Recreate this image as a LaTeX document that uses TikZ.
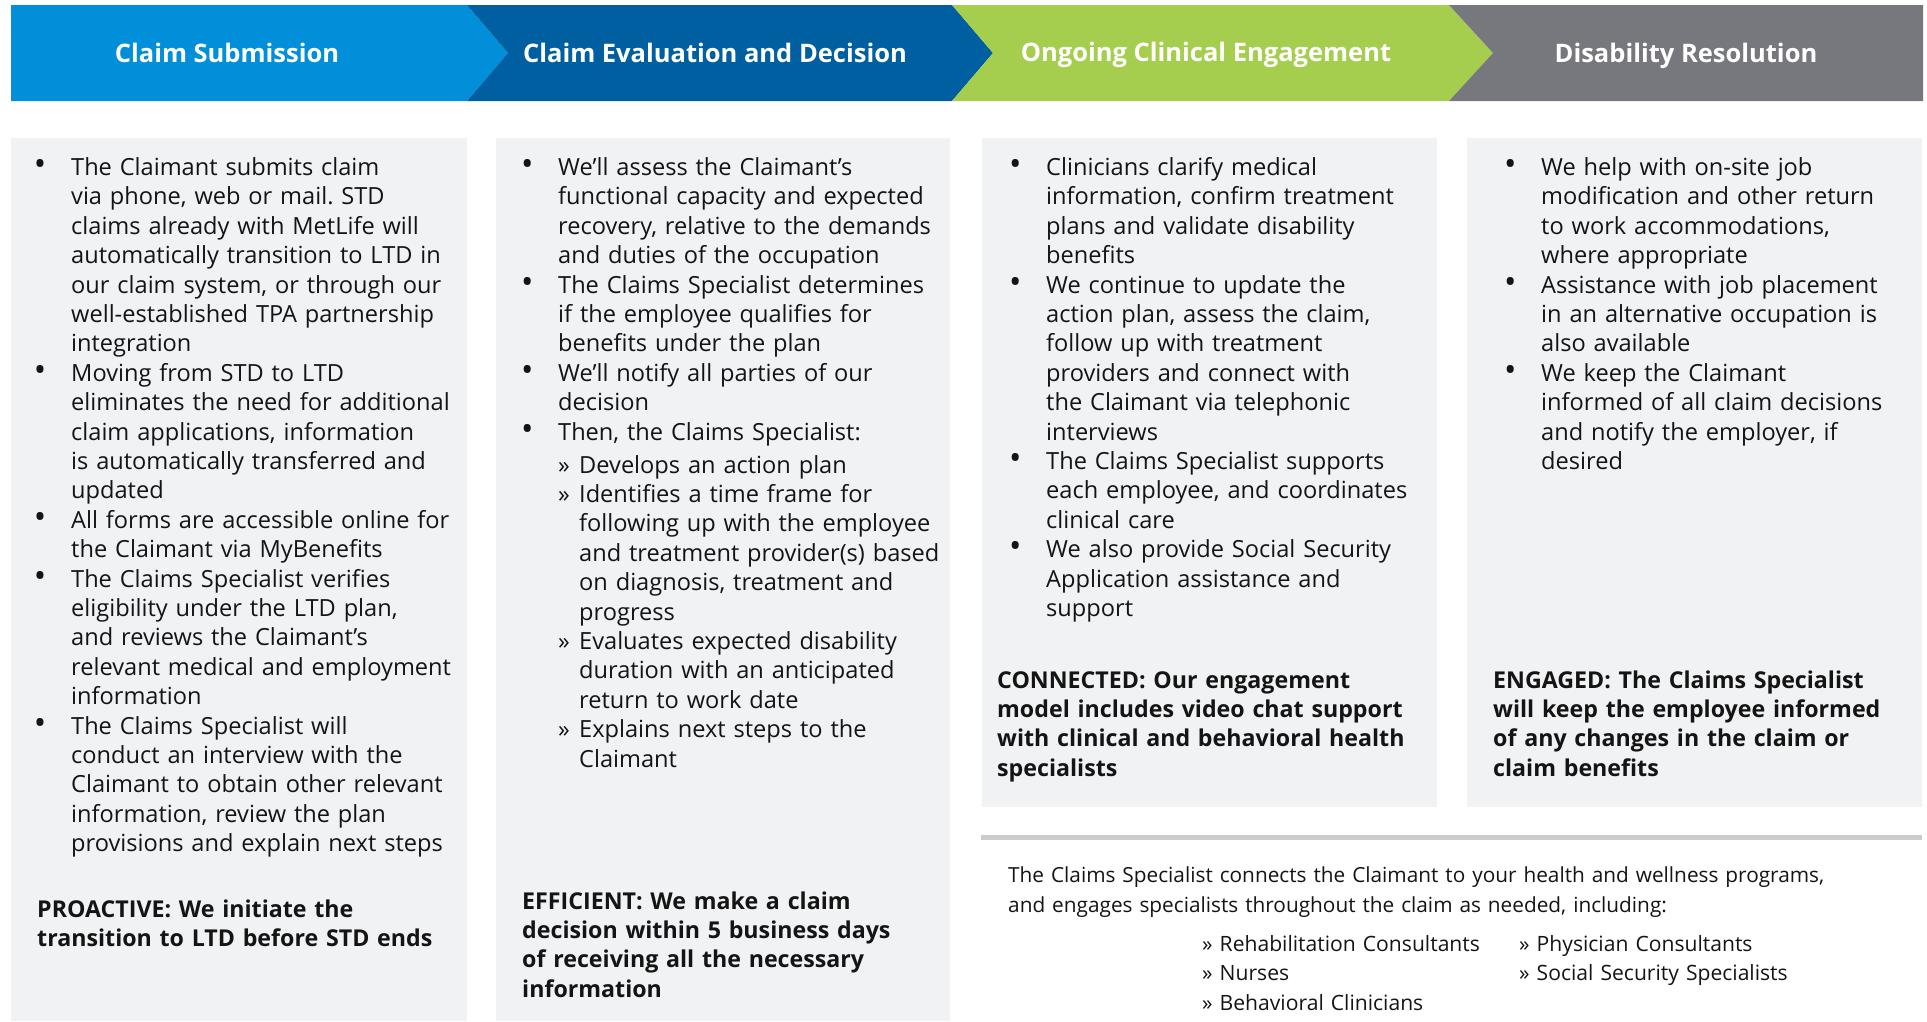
\documentclass[tikz,border=0pt]{standalone}
\usepackage{fontspec}
\setmainfont{Open Sans}
\frenchspacing

\definecolor{stepblue}{RGB}{0,143,216}
\definecolor{stepnavy}{RGB}{0,95,160}
\definecolor{stepgreen}{RGB}{166,206,78}
\definecolor{stepgrey}{RGB}{119,120,125}
\definecolor{panelgrey}{RGB}{241,242,244}
\definecolor{rulegrey}{RGB}{204,204,204}
\definecolor{bodyblack}{RGB}{20,20,20}

\tikzstyle{header} = [text=white,font=\fontsize{25.5}{28}\selectfont\bfseries,inner sep=0pt,anchor=base]
\tikzstyle{panel} = [fill=panelgrey,draw=none]
\tikzstyle{bodytext} = [anchor=north west,inner sep=0pt,text width=460pt,align=left,text=bodyblack,font=\fontsize{23.6}{29.4}\selectfont]
\tikzstyle{keytext} = [bodytext,font=\fontsize{23.2}{29.4}\selectfont\bfseries]
\tikzstyle{notetext} = [bodytext,text width=900pt,font=\fontsize{20.8}{29.5}\selectfont]
\tikzstyle{itemtext} = [notetext,text width=300pt,font=\fontsize{21.1}{29.5}\selectfont]

% bullet item and sub item
\newcommand{\bpt}[1]{\par\hangindent=31pt\hangafter=1\noindent\makebox[31pt][l]{\makebox[0pt][c]{\fontsize{33}{29.4}\selectfont•}}\strut#1\par}
\newcommand{\spt}[1]{\par\hangindent=52pt\hangafter=1\noindent\hspace*{31pt}\makebox[21pt][l]{»}\strut#1\par}

\begin{document}
\begin{tikzpicture}[x=1pt,y=-1pt]
\useasboundingbox (0,0) rectangle (1927,1021);

% chevrons
\fill[stepblue] (11,5) -- (467,5) -- (508,53) -- (467,101) -- (11,101) -- cycle;
\fill[stepnavy] (467,5) -- (952,5) -- (993,53) -- (952,101) -- (467,101) -- (508,53) -- cycle;
\fill[stepgreen] (952,5) -- (1449,5) -- (1493,53) -- (1449,101) -- (952,101) -- (993,53) -- cycle;
\fill[stepgrey] (1449,5) -- (1923,5) -- (1923,101) -- (1449,101) -- (1493,53) -- cycle;
\node[header] (h1) at (227,62.5) {Claim Submission};
\node[header] (h2) at (715,62) {Claim Evaluation and Decision};
\node[header] (h3) at (1206,61) {Ongoing Clinical Engagement};
\node[header] (h4) at (1686,62.5) {Disability Resolution};

% panels
\fill[panel] (11,138) rectangle (467,1021);
\fill[panel] (496,138) rectangle (950,1021);
\fill[panel] (982,138) rectangle (1437,807);
\fill[panel] (1467,138) rectangle (1922,807);
\draw[rulegrey,line width=5pt] (981,837) -- (1922,837);

% column texts
\node[bodytext] (t1) at (40,145.8) {%
\bpt{The Claimant submits claim\newline via phone, web or mail. STD\newline claims already with MetLife will\newline automatically transition to LTD in\newline our claim system, or through our\newline well-established TPA partnership\newline integration}
\bpt{Moving from STD to LTD\newline eliminates the need for additional\newline claim applications, information\newline is automatically transferred and\newline updated}
\bpt{All forms are accessible online for\newline the Claimant via MyBenefits}
\bpt{The Claims Specialist verifies\newline eligibility under the LTD plan,\newline and reviews the Claimant’s\newline relevant medical and employment\newline information}
\bpt{The Claims Specialist will\newline conduct an interview with the\newline Claimant to obtain other relevant\newline information, review the plan\newline provisions and explain next steps}};

\node[bodytext] (t2) at (527,145.8) {%
\bpt{We’ll assess the Claimant’s\newline functional capacity and expected\newline recovery, relative to the demands\newline and duties of the occupation}
\bpt{The Claims Specialist determines\newline if the employee qualifies for\newline benefits under the plan}
\bpt{We’ll notify all parties of our\newline decision}
\bpt{Then, the Claims Specialist:}
\vspace{3.6pt}
\spt{Develops an action plan}
\spt{Identifies a time frame for\newline following up with the employee\newline and treatment provider(s) based\newline on diagnosis, treatment and\newline progress}
\spt{Evaluates expected disability\newline duration with an anticipated\newline return to work date}
\spt{Explains next steps to the\newline Claimant}};

\node[bodytext] (t3) at (1015,145.8) {%
\bpt{Clinicians clarify medical\newline information, confirm treatment\newline plans and validate disability\newline benefits}
\bpt{We continue to update the\newline action plan, assess the claim,\newline follow up with treatment\newline providers and connect with\newline the Claimant via telephonic\newline interviews}
\bpt{The Claims Specialist supports\newline each employee, and coordinates\newline clinical care}
\bpt{We also provide Social Security\newline Application assistance and\newline support}};

\node[bodytext] (t4) at (1510,145.8) {%
\bpt{We help with on-site job\newline modification and other return\newline to work accommodations,\newline where appropriate}
\bpt{Assistance with job placement\newline in an alternative occupation is\newline also available}
\bpt{We keep the Claimant\newline informed of all claim decisions\newline and notify the employer, if\newline desired}};

% key messages
\node[keytext] (k1) at (37,896.4) {\strut PROACTIVE: We initiate the\\transition to LTD before STD ends};
\node[keytext] (k2) at (522,888.4) {\strut EFFICIENT: We make a claim\\decision within 5 business days\\of receiving all the necessary\\information};
\node[keytext] (k3) at (997,667.4) {\strut CONNECTED: Our engagement\\model includes video chat support\\with clinical and behavioral health\\specialists};
\node[keytext] (k4) at (1493,667.4) {\strut ENGAGED: The Claims Specialist\\will keep the employee informed\\of any changes in the claim or\\claim benefits};

% specialists note
\node[notetext] (n1) at (1008,862) {\strut The Claims Specialist connects the Claimant to your health and wellness programs,\\and engages specialists throughout the claim as needed, including:};
\node[itemtext] (n2) at (1202,930.4) {\strut» Rehabilitation Consultants\\» Nurses\\» Behavioral Clinicians};
\node[itemtext] (n3) at (1519,930.4) {\strut» Physician Consultants\\» Social Security Specialists};
\end{tikzpicture}
\end{document}
